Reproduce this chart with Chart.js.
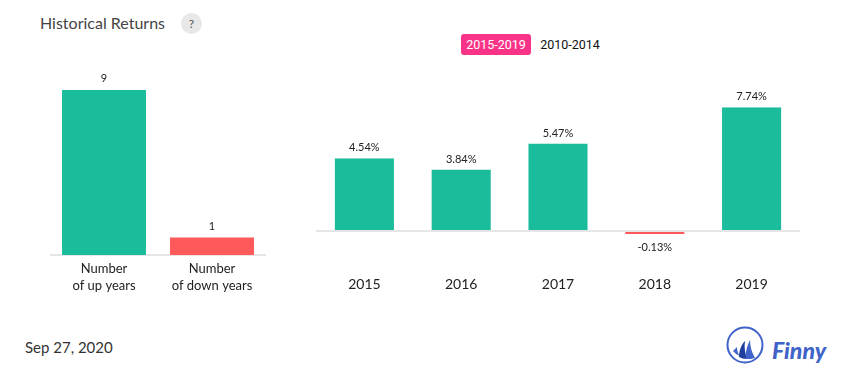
<!DOCTYPE html>
<html lang="en">
<head>
  <meta charset="UTF-8">
  <title>Historical Returns</title>
  <script src="https://cdn.jsdelivr.net/npm/chart.js"></script>
  <style>
    html, body { margin: 0; padding: 0; background: #fff; }
    body { width: 855px; height: 382px; position: relative; overflow: hidden; font-family: 'Lato', sans-serif; }
    canvas { position: absolute; }
    #countChart { left: 50px; top: 60px; }
    #returnChart { left: 316px; top: 60px; }
    .title { position: absolute; left: 40px; top: 13px; font-size: 16px; line-height: 20px; color: #444; }
    .help { position: absolute; left: 181px; top: 13px; width: 21px; height: 21px; border-radius: 50%; background: #e8e8e8; color: #555; font-size: 12px; line-height: 21px; text-align: center; }
    .tab { position: absolute; top: 34px; height: 21px; line-height: 21px; font-family: 'Roboto', sans-serif; font-size: 12.5px; text-align: center; color: #111; }
    .tab.active { left: 461px; width: 70px; background: #f93488; color: #fff; border-radius: 3px; }
    .tab.other { left: 535px; width: 70px; }
    .date { position: absolute; left: 25px; top: 337px; font-size: 15px; line-height: 20px; color: #333; }
    .logo { position: absolute; left: 726px; top: 326px; }
    .brand { position: absolute; left: 772px; top: 335px; font-family: 'Lato', sans-serif; font-style: italic; font-weight: 900; font-size: 23px; line-height: 30px; color: #3f63c8; }
  </style>
</head>
<body>

<div class="title">Historical Returns</div>
<div class="help">?</div>
<div class="tab active">2015-2019</div>
<div class="tab other">2010-2014</div>

<canvas id="countChart" width="216" height="240"></canvas>
<canvas id="returnChart" width="484" height="240"></canvas>

<div class="date">Sep 27, 2020</div>
<svg class="logo" width="38" height="38" viewBox="0 0 38 38">
  <circle cx="19" cy="19" r="17.5" fill="none" stroke="#3f63c8" stroke-width="2"/>
  <path d="M7 25 L11 21 C11 25 12 28 14 30 C11 29 9 27 7 25 Z" fill="#3f63c8"/>
  <path d="M19 15 C15 19 13 25 13 31 C15 32 18 33 21 33 C19 27 18 21 19 15 Z" fill="#1f3f9f"/>
  <path d="M24 14 C21 20 19 27 20 33 C23 33 26 33 29 32 C26 27 24 21 24 14 Z" fill="#3f63c8"/>
</svg>
<div class="brand">Finny</div>

<script>
  const countLabels = [['Number', 'of up years'], ['Number', 'of down years']];
  const countValues = [9, 1];
  const returnYears = ['2015', '2016', '2017', '2018', '2019'];
  const returnValues = [4.54, 3.84, 5.47, -0.13, 7.74];

  const UP = '#1abc9c';
  const DOWN = '#ff5a5a';
  const AXIS = '#e6e6e6';

  // writes the value above (or below) each bar
  const barLabels = {
    id: 'barLabels',
    afterDatasetsDraw(chart, args, opts) {
      const ctx = chart.ctx;
      const values = chart.data.datasets[0].data;
      ctx.save();
      ctx.font = '11px Lato';
      ctx.fillStyle = '#222';
      ctx.textAlign = 'center';
      ctx.textBaseline = 'middle';
      chart.getDatasetMeta(0).data.forEach((bar, i) => {
        const v = values[i];
        const y = v < 0 ? bar.y + 13 : bar.y - 10.5;
        ctx.fillText(opts.format(v), bar.x, y);
      });
      ctx.restore();
    }
  };

  new Chart(document.getElementById('countChart'), {
    type: 'bar',
    data: {
      labels: countLabels,
      datasets: [{
        data: countValues,
        backgroundColor: [UP, DOWN],
        borderColor: '#fff',
        borderWidth: 1,
        borderSkipped: 'start',
        barPercentage: 0.796,
        categoryPercentage: 1
      }]
    },
    options: {
      responsive: false,
      animation: false,
      layout: { padding: { top: 29 } },
      plugins: {
        legend: { display: false },
        tooltip: { enabled: false },
        barLabels: { format: v => String(v) }
      },
      scales: {
        x: {
          grid: { display: false },
          border: { color: AXIS, width: 2 },
          afterFit: s => { s.height = 45; },
          ticks: { color: '#222', padding: -3, maxRotation: 0, font: { family: 'Lato', size: 13, lineHeight: 1.3 } }
        },
        y: { display: false, min: 0, max: 9 }
      }
    },
    plugins: [barLabels]
  });

  new Chart(document.getElementById('returnChart'), {
    type: 'bar',
    data: {
      labels: returnYears,
      datasets: [{
        data: returnValues,
        backgroundColor: returnValues.map(v => v < 0 ? DOWN : UP),
        borderColor: '#fff',
        borderWidth: { left: 1, right: 1, top: 0, bottom: 0 },
        borderSkipped: false,
        minBarLength: 3,
        barPercentage: 0.631,
        categoryPercentage: 1
      }]
    },
    options: {
      responsive: false,
      animation: false,
      layout: { padding: { top: 11 } },
      plugins: {
        legend: { display: false },
        tooltip: { enabled: false },
        barLabels: { format: v => v.toFixed(2) + '%' }
      },
      scales: {
        x: {
          grid: { display: false },
          border: { display: false },
          afterFit: s => { s.height = 29; },
          ticks: { color: '#222', padding: -3, font: { family: 'Lato', size: 14 } }
        },
        y: {
          min: -2.5,
          max: 10,
          afterFit: s => { s.width = 0; },
          border: { display: false },
          ticks: { display: false, stepSize: 2.5 },
          grid: {
            drawTicks: false,
            lineWidth: 2,
            color: c => c.tick.value === 0 ? AXIS : 'transparent'
          }
        }
      }
    },
    plugins: [barLabels]
  });
</script>

</body>
</html>
